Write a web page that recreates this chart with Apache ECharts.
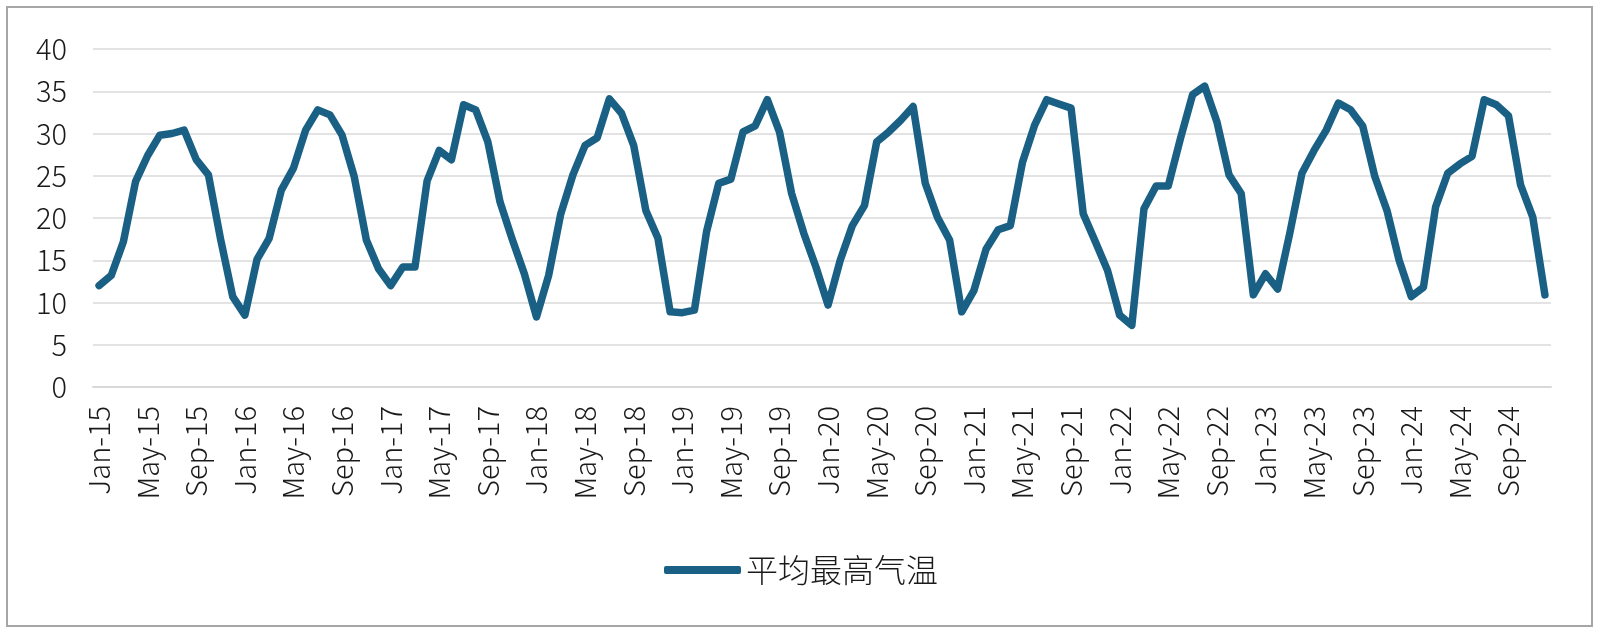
<!DOCTYPE html>
<html>
<head>
<meta charset="utf-8">
<title>平均最高气温</title>
<script src="https://cdn.jsdelivr.net/npm/echarts@6/dist/echarts.min.js"></script>
<style>
  html, body { margin: 0; padding: 0; background: #fff; }
  #chart { width: 1600px; height: 635px; }
</style>
</head>
<body>
<div id="chart"></div>
<script>
// 月份 / 年份 -> 类目
const monthNames = ["Jan", "Feb", "Mar", "Apr", "May", "Jun", "Jul", "Aug", "Sep", "Oct", "Nov", "Dec"];
const years = ["15", "16", "17", "18", "19", "20", "21", "22", "23", "24"];

// 平均最高气温 (℃)，按年份分组
const temp2015 = [12.0, 13.2, 17.2, 24.3, 27.4, 29.8, 30.0, 30.4, 26.9, 25.1, 17.5, 10.7];
const temp2016 = [8.5, 15.1, 17.6, 23.3, 25.9, 30.4, 32.8, 32.2, 29.8, 24.9, 17.4, 14.0];
const temp2017 = [12.0, 14.2, 14.2, 24.4, 28.0, 26.9, 33.4, 32.8, 29.0, 21.9, 17.5, 13.4];
const temp2018 = [8.3, 13.2, 20.5, 25.1, 28.6, 29.5, 34.1, 32.4, 28.6, 20.9, 17.6, 8.9];
const temp2019 = [8.8, 9.1, 18.4, 24.1, 24.6, 30.2, 30.9, 34.0, 30.2, 22.9, 18.2, 14.2];
const temp2020 = [9.7, 15.0, 19.1, 21.5, 29.0, 30.2, 31.6, 33.2, 24.1, 20.1, 17.4, 8.9];
const temp2021 = [11.4, 16.3, 18.6, 19.1, 26.6, 31.0, 34.0, 33.5, 33.0, 20.5, 17.2, 13.8];
const temp2022 = [8.5, 7.3, 21.1, 23.8, 23.8, 29.4, 34.6, 35.6, 31.4, 25.1, 22.9, 10.9];
const temp2023 = [13.4, 11.6, 18.2, 25.3, 28.0, 30.4, 33.6, 32.8, 30.9, 24.9, 20.9, 15.0];
const temp2024 = [10.7, 11.8, 21.3, 25.3, 26.4, 27.3, 34.0, 33.4, 32.1, 23.9, 20.1, 10.9];

const seriesName = "平均最高气温";
const lineColor = "#1a6085";
const fontFamily = "'Noto Sans CJK SC', 'Noto Sans', sans-serif";

const categories = [];
years.forEach(y => {
  monthNames.forEach(m => categories.push(m + "-" + y));
});
const values = [].concat(
  temp2015, temp2016, temp2017, temp2018, temp2019,
  temp2020, temp2021, temp2022, temp2023, temp2024
);

const chart = echarts.init(document.getElementById("chart"), null, { renderer: "canvas" });

chart.setOption({
  animation: false,
  backgroundColor: "#fff",
  textStyle: { fontFamily },
  graphic: [
    {
      // 外框
      type: "rect",
      shape: { x: 7, y: 7, width: 1585, height: 619 },
      style: { fill: "none", stroke: "#a6a6a6", lineWidth: 2 },
      silent: true
    }
  ],
  grid: {
    left: 93,
    right: 49,
    top: 49,
    bottom: 248,
    containLabel: false
  },
  legend: {
    data: [seriesName],
    bottom: 44,
    left: 659,
    icon: "roundRect",
    itemWidth: 77,
    itemHeight: 8,
    textStyle: { fontSize: 32, fontWeight: 300, color: "#1a1a1a", fontFamily }
  },
  xAxis: {
    type: "category",
    data: categories,
    boundaryGap: true,
    axisLine: { lineStyle: { color: "#d9d9d9", width: 2 } },
    axisTick: { interval: 3, length: 8, lineStyle: { color: "#d9d9d9", width: 2 } },
    axisLabel: {
      interval: 3,
      rotate: 90,
      margin: 19,
      fontSize: 29,
      fontWeight: 300,
      color: "#1a1a1a",
      fontFamily
    },
    splitLine: { show: false }
  },
  yAxis: {
    type: "value",
    min: 0,
    max: 40,
    interval: 5,
    axisLine: { show: false },
    axisTick: { show: false },
    axisLabel: { fontSize: 29, fontWeight: 300, color: "#1a1a1a", margin: 26, fontFamily },
    splitLine: { lineStyle: { color: "#e3e3e3", width: 2 } }
  },
  series: [
    {
      name: seriesName,
      type: "line",
      data: values,
      symbol: "none",
      color: lineColor,
      lineStyle: { width: 7.5, color: lineColor, cap: "round", join: "round" }
    }
  ]
});
</script>
</body>
</html>
